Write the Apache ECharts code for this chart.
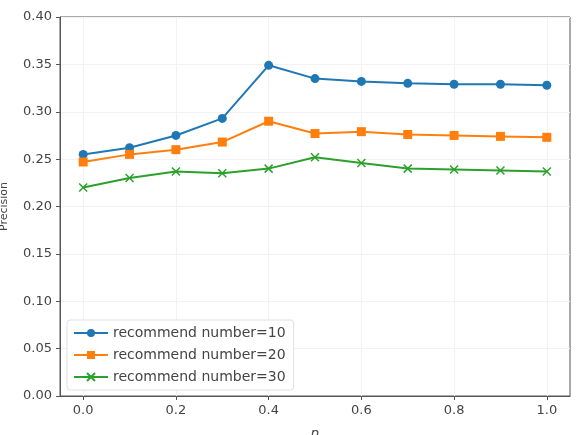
<!DOCTYPE html>
<html>
<head>
<meta charset="utf-8">
<script src="https://cdn.jsdelivr.net/npm/echarts@6/dist/echarts.min.js"></script>
<style>
  html, body { margin: 0; padding: 0; background: #fff; }
  #chart { width: 584px; height: 435px; }
</style>
</head>
<body>
<div id="chart"></div>
<script>
// p values on the x axis
const pValues = [0.0, 0.1, 0.2, 0.3, 0.4, 0.5, 0.6, 0.7, 0.8, 0.9, 1.0];
const xTicks = [0.0, 0.2, 0.4, 0.6, 0.8, 1.0];
const seriesNames = ['recommend number=10', 'recommend number=20', 'recommend number=30'];
// precision
const rec10 = [0.255, 0.262, 0.275, 0.293, 0.349, 0.335, 0.332, 0.330, 0.329, 0.329, 0.328];
const rec20 = [0.247, 0.255, 0.260, 0.268, 0.290, 0.277, 0.279, 0.276, 0.275, 0.274, 0.273];
const rec30 = [0.220, 0.230, 0.237, 0.235, 0.240, 0.252, 0.246, 0.240, 0.239, 0.238, 0.237];

const chart = echarts.init(document.getElementById('chart'));

function pairs(vals) {
  return pValues.map((p, i) => [p, vals[i]]);
}

const font = 'DejaVu Sans';
const crossPath = 'path://M0,0L10,10M10,0L0,10';
const blue = '#1f77b4', orange = '#ff7f0e', green = '#2ca02c';

const option = {
  animation: false,
  textStyle: { fontFamily: font },
  grid: {
    left: 60, right: 14, top: 17, bottom: 39,
    outerBoundsMode: 'none',
    containLabel: false,
    show: true, borderColor: '#555', borderWidth: 1
  },
  legend: {
    orient: 'vertical',
    left: 67, top: 320,
    zlevel: 2,
    padding: [6, 8, 6, 6],
    itemGap: 8,
    itemWidth: 34, itemHeight: 10,
    backgroundColor: '#fff',
    borderColor: '#e0e0e0', borderWidth: 1, borderRadius: 3,
    textStyle: { color: '#444', fontSize: 14, fontFamily: font },
    data: seriesNames
  },
  xAxis: {
    type: 'value',
    min: -0.05, max: 1.05,
    name: 'p',
    nameLocation: 'middle',
    nameGap: 31,
    nameTextStyle: { color: '#444', fontSize: 13, fontStyle: 'italic' },
    axisLine: { show: true, onZero: false, lineStyle: { color: '#555' } },
    axisTick: { show: true, length: 4, customValues: xTicks, lineStyle: { color: '#555' } },
    axisLabel: {
      customValues: xTicks, color: '#444', fontSize: 13, margin: 8,
      formatter: v => v.toFixed(1)
    },
    splitLine: { show: false }
  },
  yAxis: {
    type: 'value',
    min: 0, max: 0.4, interval: 0.05,
    name: 'Precision',
    nameLocation: 'middle',
    nameGap: 50,
    nameRotate: 90,
    nameTextStyle: { color: '#444', fontSize: 11 },
    axisLine: { show: true, onZero: false, lineStyle: { color: '#555' } },
    axisTick: { show: true, length: 4, lineStyle: { color: '#555' } },
    axisLabel: { color: '#444', fontSize: 13, margin: 8, formatter: v => v.toFixed(2) },
    splitLine: { show: true, lineStyle: { color: '#f2f2f2', width: 1 } }
  },
  series: [
    {
      // vertical grid lines at the x ticks only
      type: 'line',
      data: [],
      zlevel: 0,
      markLine: {
        silent: true, symbol: 'none', label: { show: false },
        lineStyle: { color: '#f2f2f2', type: 'solid', width: 1 },
        data: xTicks.map(x => ({ xAxis: x }))
      }
    },
    {
      name: seriesNames[0],
      type: 'line',
      data: pairs(rec10),
      symbol: 'circle', symbolSize: 9,
      itemStyle: { color: blue },
      lineStyle: { width: 2, color: blue },
      zlevel: 1
    },
    {
      name: seriesNames[1],
      type: 'line',
      data: pairs(rec20),
      symbol: 'rect', symbolSize: 9,
      itemStyle: { color: orange },
      lineStyle: { width: 2, color: orange },
      zlevel: 1
    },
    {
      name: seriesNames[2],
      type: 'line',
      data: pairs(rec30),
      symbol: crossPath, symbolSize: 8,
      itemStyle: { color: green, borderColor: green, borderWidth: 1.5 },
      lineStyle: { width: 2, color: green },
      zlevel: 1
    }
  ]
};

chart.setOption(option);
</script>
</body>
</html>
